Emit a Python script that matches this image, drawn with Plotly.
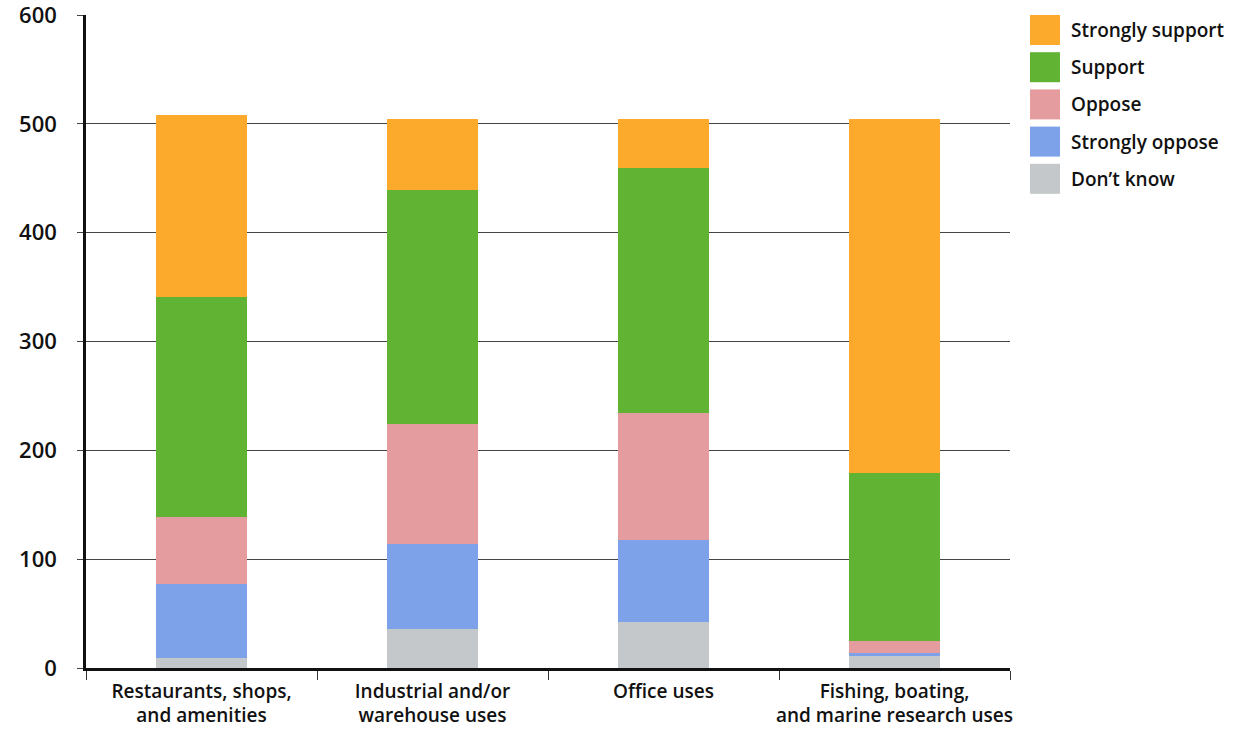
import plotly.graph_objects as go

# Survey responses by proposed land use
categories = [
    "Restaurants, shops,<br>and amenities",
    "Industrial and/or<br>warehouse uses",
    "Office uses",
    "Fishing, boating,<br>and marine research uses",
]
dont_know = [9, 36, 42, 11]
strongly_oppose = [68, 78, 76, 3]
oppose = [62, 110, 116, 11]
support = [202, 215, 225, 154]
strongly_support = [167, 65, 45, 325]

y_ticks = [0, 100, 200, 300, 400, 500, 600]

# stacked bottom -> top
series = [
    ("Don\u2019t know", dont_know, "#c5c8ca"),
    ("Strongly oppose", strongly_oppose, "#7ea2ea"),
    ("Oppose", oppose, "#e59c9f"),
    ("Support", support, "#60b333"),
    ("Strongly support", strongly_support, "#fcaa2c"),
]

FONT = "Open Sans"
TEXT = "#111111"
W, H = 1235, 736
L, R, T, B = 86, 225, 15, 68
plot_w = W - L - R
plot_h = H - T - B

fig = go.Figure()
for name, vals, color in series:
    fig.add_trace(go.Bar(
        x=categories, y=vals, name=name,
        marker=dict(color=color, line=dict(width=0)),
        showlegend=False,
    ))


def px_to_paper(xp, yp):
    return (xp - L) / plot_w, (H - B - yp) / plot_h


# legend drawn as large swatches, top entry first
shapes = []
annotations = []
for i, (name, vals, color) in enumerate(reversed(series)):
    top = 15 + i * 37.2
    x0, y0 = px_to_paper(1030, top + 30)
    x1, y1 = px_to_paper(1060, top)
    shapes.append(dict(type="rect", xref="paper", yref="paper",
                       x0=x0, x1=x1, y0=y0, y1=y1,
                       fillcolor=color, line=dict(width=0), layer="above"))
    tx, ty = px_to_paper(1069, top + 15)
    annotations.append(dict(text=name, xref="paper", yref="paper",
                            x=tx, y=ty, xanchor="left", yanchor="middle",
                            showarrow=False,
                            font=dict(family=FONT, size=19, color=TEXT, weight=600)))

fig.update_layout(
    width=W, height=H,
    margin=dict(l=L, r=R, t=T, b=B, autoexpand=False),
    barmode="stack",
    bargap=0.606,
    plot_bgcolor="white",
    paper_bgcolor="white",
    font=dict(family=FONT, size=19, color=TEXT),
    shapes=shapes,
    annotations=annotations,
    xaxis=dict(
        showline=True, linecolor="#111", linewidth=2.5,
        ticks="outside", tickson="boundaries", ticklen=9, tickcolor="#333", tickwidth=1,
        showgrid=False,
        tickangle=0,
        automargin=False,
        ticklabelstandoff=4,
        ticklabeloverflow="allow",
        tickfont=dict(family=FONT, size=19, color=TEXT, weight=600),
    ),
    yaxis=dict(
        range=[0, 600],
        tickvals=y_ticks,
        showline=True, linecolor="#111", linewidth=2.5,
        showgrid=True, gridcolor="#444", gridwidth=1,
        ticks="outside", ticklen=6, tickcolor="#444", tickwidth=1,
        ticklabelstandoff=16,
        ticklabeloverflow="allow",
        automargin=False,
        zeroline=False,
        tickfont=dict(family=FONT, size=22, color=TEXT, weight=600),
    ),
)

fig.write_html("out.html")
